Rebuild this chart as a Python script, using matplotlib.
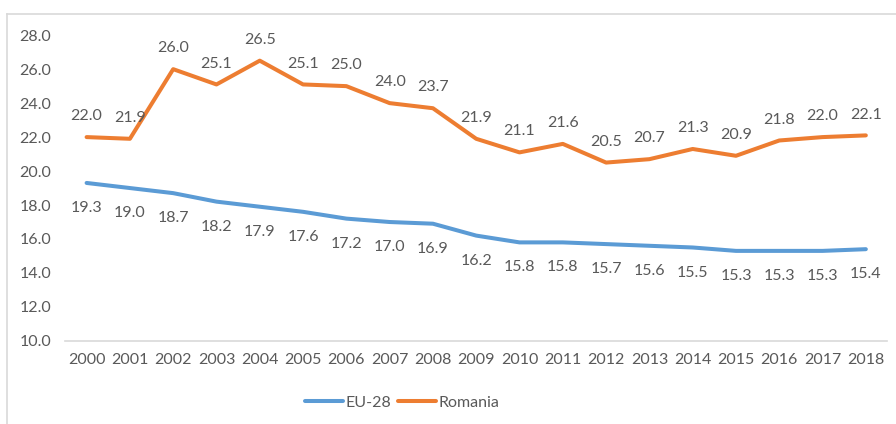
import matplotlib.pyplot as plt
from matplotlib.lines import Line2D

years = [str(y) for y in range(2000, 2019)]
eu28 = [19.3, 19.0, 18.7, 18.2, 17.9, 17.6, 17.2, 17.0, 16.9, 16.2,
        15.8, 15.8, 15.7, 15.6, 15.5, 15.3, 15.3, 15.3, 15.4]
romania = [22.0, 21.9, 26.0, 25.1, 26.5, 25.1, 25.0, 24.0, 23.7, 21.9,
           21.1, 21.6, 20.5, 20.7, 21.3, 20.9, 21.8, 22.0, 22.1]
y_ticks = [10, 12, 14, 16, 18, 20, 22, 24, 26, 28]

plt.rcParams['font.family'] = ['Lato', 'DejaVu Sans']
text_color = '#595959'
blue = '#5B9BD5'
orange = '#ED7D31'
fs = 11.5

fig = plt.figure(figsize=(8.96, 4.24), dpi=100)
ax = fig.add_axes([0.0725, 0.196, 0.918, 0.721])

x = list(range(len(years)))
ax.plot(x, eu28, color=blue, lw=2.9, solid_capstyle='round', label='EU-28')
ax.plot(x, romania, color=orange, lw=2.9, solid_capstyle='round', label='Romania')

for i in x:
    ax.annotate(f'{eu28[i]:.1f}', (i, eu28[i]), xytext=(0, -13), textcoords='offset points',
                ha='center', va='top', fontsize=fs, color=text_color)
    ax.annotate(f'{romania[i]:.1f}', (i, romania[i]), xytext=(0, 10), textcoords='offset points',
                ha='center', va='bottom', fontsize=fs, color=text_color)

ax.set_xlim(-0.5, len(years) - 0.5)
ax.set_ylim(10, 28)
ax.set_yticks(y_ticks)
ax.set_yticklabels([f'{v:.1f}' for v in y_ticks])
ax.set_xticks(x)
ax.set_xticklabels(years)
ax.tick_params(axis='both', length=0, labelsize=fs, labelcolor=text_color)
ax.tick_params(axis='y', pad=10)
ax.tick_params(axis='x', pad=9)
for s in ['top', 'right', 'left']:
    ax.spines[s].set_visible(False)
ax.spines['bottom'].set_color('#D9D9D9')
ax.spines['bottom'].set_linewidth(1.2)

ax.legend(loc='center', bbox_to_anchor=(0.41, -0.203), ncol=2, frameon=False,
          fontsize=fs, labelcolor=text_color, handlelength=2.4, handletextpad=0.15,
          columnspacing=0.4)

# chart frame
fig.add_artist(Line2D([7 / 896, 1], [1 - 14 / 424, 1 - 14 / 424], color='#D9D9D9', lw=1.2))
fig.add_artist(Line2D([7 / 896, 7 / 896], [0, 1 - 14 / 424], color='#D9D9D9', lw=1.2))

fig.savefig('out.png', dpi=100)
